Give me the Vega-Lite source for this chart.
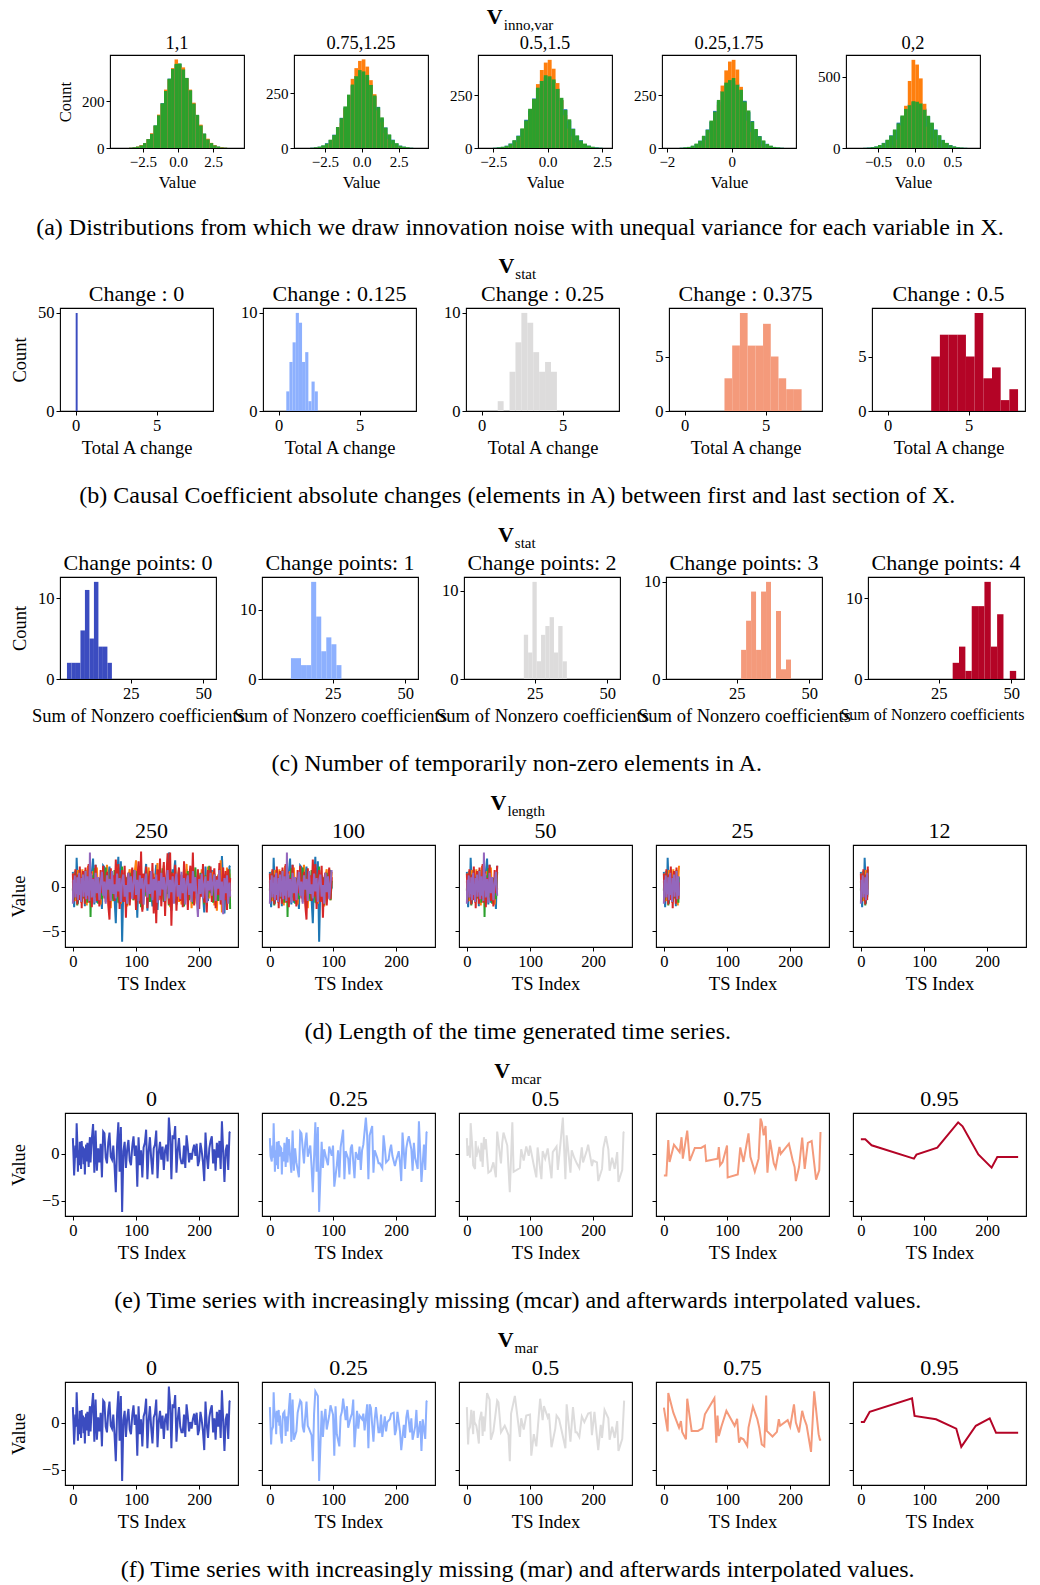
{
"$schema":"https://vega.github.io/schema/vega-lite/v6.json",
"background":"white",
"padding":{"left":8,"top":5,"right":0,"bottom":0},
"spacing":14,
"resolve":{"scale":{"color":"independent"}},
"config":{
 "font":"Liberation Serif",
 "view":{"stroke":"#000","strokeWidth":1.1},
 "axis":{"domain":false,"grid":false,"tickColor":"#000","tickSize":4,"tickWidth":1,"labelColor":"#000","labelFontSize":16.5,"labelPadding":2,"labelFlush":false,"labelOverlap":false,"titleColor":"#000","titleFontSize":18.5,"titleFontWeight":"normal","titlePadding":5},
 "axisY":{"titlePadding":8},
 "title":{"fontSize":22,"fontWeight":"normal","color":"#000","offset":2},
 "line":{"strokeWidth":2}
},
"datasets":{
"ha":[
{"p":1,"x0":-3.5,"x1":-3.25,"b":1,"o":1,"g":1},{"p":1,"x0":-3.25,"x1":-3,"b":3,"o":2,"g":3},{"p":1,"x0":-3,"x1":-2.75,"b":5,"o":6,"g":6},{"p":1,"x0":-2.75,"x1":-2.5,"b":11,"o":12,"g":11},{"p":1,"x0":-2.5,"x1":-2.25,"b":21,"o":20,"g":21},{"p":1,"x0":-2.25,"x1":-2,"b":38,"o":37,"g":38},{"p":1,"x0":-2,"x1":-1.75,"b":61,"o":63,"g":60},{"p":1,"x0":-1.75,"x1":-1.5,"b":96,"o":94,"g":97},{"p":1,"x0":-1.5,"x1":-1.25,"b":139,"o":143,"g":140},{"p":1,"x0":-1.25,"x1":-1,"b":192,"o":188,"g":191},{"p":1,"x0":-1,"x1":-0.75,"b":246,"o":250,"g":244},{"p":1,"x0":-0.75,"x1":-0.5,"b":297,"o":292,"g":296},{"p":1,"x0":-0.5,"x1":-0.25,"b":336,"o":342,"g":338},{"p":1,"x0":-0.25,"x1":0,"b":356,"o":379,"g":360},{"p":1,"x0":0,"x1":0.25,"b":360,"o":352,"g":362},{"p":1,"x0":0.25,"x1":0.5,"b":338,"o":345,"g":336},{"p":1,"x0":0.5,"x1":0.75,"b":299,"o":296,"g":300},{"p":1,"x0":0.75,"x1":1,"b":246,"o":250,"g":247},{"p":1,"x0":1,"x1":1.25,"b":191,"o":194,"g":190},{"p":1,"x0":1.25,"x1":1.5,"b":141,"o":138,"g":142},{"p":1,"x0":1.5,"x1":1.75,"b":97,"o":100,"g":96},{"p":1,"x0":1.75,"x1":2,"b":61,"o":60,"g":62},{"p":1,"x0":2,"x1":2.25,"b":38,"o":40,"g":37},{"p":1,"x0":2.25,"x1":2.5,"b":21,"o":22,"g":21},{"p":1,"x0":2.5,"x1":2.75,"b":11,"o":12,"g":11},{"p":1,"x0":2.75,"x1":3,"b":6,"o":5,"g":6},{"p":1,"x0":3,"x1":3.25,"b":3,"o":3,"g":2},{"p":1,"x0":3.25,"x1":3.5,"b":1,"o":1,"g":1},
{"p":2,"x0":-3.5,"x1":-3.25,"b":1,"o":0,"g":1},{"p":2,"x0":-3.25,"x1":-3,"b":3,"o":1,"g":3},{"p":2,"x0":-3,"x1":-2.75,"b":6,"o":2,"g":6},{"p":2,"x0":-2.75,"x1":-2.5,"b":11,"o":4,"g":12},{"p":2,"x0":-2.5,"x1":-2.25,"b":22,"o":10,"g":20},{"p":2,"x0":-2.25,"x1":-2,"b":36,"o":21,"g":38},{"p":2,"x0":-2,"x1":-1.75,"b":61,"o":39,"g":59},{"p":2,"x0":-1.75,"x1":-1.5,"b":92,"o":71,"g":96},{"p":2,"x0":-1.5,"x1":-1.25,"b":138,"o":114,"g":136},{"p":2,"x0":-1.25,"x1":-1,"b":184,"o":178,"g":190},{"p":2,"x0":-1,"x1":-0.75,"b":240,"o":240,"g":244},{"p":2,"x0":-0.75,"x1":-0.5,"b":285,"o":316,"g":290},{"p":2,"x0":-0.5,"x1":-0.25,"b":329,"o":365,"g":328},{"p":2,"x0":-0.25,"x1":0,"b":345,"o":398,"g":356},{"p":2,"x0":0,"x1":0.25,"b":349,"o":405,"g":350},{"p":2,"x0":0.25,"x1":0.5,"b":323,"o":372,"g":334},{"p":2,"x0":0.5,"x1":0.75,"b":290,"o":310,"g":288},{"p":2,"x0":0.75,"x1":1,"b":236,"o":246,"g":240},{"p":2,"x0":1,"x1":1.25,"b":188,"o":172,"g":186},{"p":2,"x0":1.25,"x1":1.5,"b":135,"o":118,"g":140},{"p":2,"x0":1.5,"x1":1.75,"b":94,"o":68,"g":93},{"p":2,"x0":1.75,"x1":2,"b":60,"o":41,"g":62},{"p":2,"x0":2,"x1":2.25,"b":38,"o":19,"g":36},{"p":2,"x0":2.25,"x1":2.5,"b":20,"o":10,"g":22},{"p":2,"x0":2.5,"x1":2.75,"b":11,"o":4,"g":10},{"p":2,"x0":2.75,"x1":3,"b":6,"o":2,"g":6},{"p":2,"x0":3,"x1":3.25,"b":3,"o":1,"g":3},{"p":2,"x0":3.25,"x1":3.5,"b":1,"o":0,"g":1},
{"p":3,"x0":-2.52,"x1":-2.34,"b":1,"o":0,"g":1},{"p":3,"x0":-2.34,"x1":-2.16,"b":3,"o":0,"g":3},{"p":3,"x0":-2.16,"x1":-1.98,"b":5,"o":1,"g":6},{"p":3,"x0":-1.98,"x1":-1.8,"b":11,"o":2,"g":10},{"p":3,"x0":-1.8,"x1":-1.62,"b":21,"o":5,"g":20},{"p":3,"x0":-1.62,"x1":-1.44,"b":35,"o":12,"g":37},{"p":3,"x0":-1.44,"x1":-1.26,"b":59,"o":28,"g":57},{"p":3,"x0":-1.26,"x1":-1.08,"b":90,"o":52,"g":93},{"p":3,"x0":-1.08,"x1":-0.9,"b":134,"o":96,"g":130},{"p":3,"x0":-0.9,"x1":-0.72,"b":178,"o":150,"g":186},{"p":3,"x0":-0.72,"x1":-0.54,"b":235,"o":230,"g":232},{"p":3,"x0":-0.54,"x1":-0.36,"b":278,"o":303,"g":286},{"p":3,"x0":-0.36,"x1":-0.18,"b":320,"o":370,"g":318},{"p":3,"x0":-0.18,"x1":0,"b":335,"o":405,"g":345},{"p":3,"x0":0,"x1":0.18,"b":338,"o":418,"g":340},{"p":3,"x0":0.18,"x1":0.36,"b":314,"o":376,"g":325},{"p":3,"x0":0.36,"x1":0.54,"b":282,"o":308,"g":280},{"p":3,"x0":0.54,"x1":0.72,"b":228,"o":226,"g":238},{"p":3,"x0":0.72,"x1":0.9,"b":184,"o":156,"g":180},{"p":3,"x0":0.9,"x1":1.08,"b":130,"o":92,"g":136},{"p":3,"x0":1.08,"x1":1.26,"b":92,"o":54,"g":90},{"p":3,"x0":1.26,"x1":1.44,"b":57,"o":26,"g":60},{"p":3,"x0":1.44,"x1":1.62,"b":37,"o":12,"g":35},{"p":3,"x0":1.62,"x1":1.8,"b":19,"o":5,"g":21},{"p":3,"x0":1.8,"x1":1.98,"b":11,"o":2,"g":11},{"p":3,"x0":1.98,"x1":2.16,"b":5,"o":1,"g":6},{"p":3,"x0":2.16,"x1":2.34,"b":3,"o":0,"g":2},{"p":3,"x0":2.34,"x1":2.52,"b":1,"o":0,"g":1},
{"p":4,"x0":-1.61,"x1":-1.495,"b":1,"o":0,"g":1},{"p":4,"x0":-1.495,"x1":-1.38,"b":2,"o":0,"g":3},{"p":4,"x0":-1.38,"x1":-1.265,"b":5,"o":0,"g":5},{"p":4,"x0":-1.265,"x1":-1.15,"b":10,"o":1,"g":11},{"p":4,"x0":-1.15,"x1":-1.035,"b":19,"o":2,"g":21},{"p":4,"x0":-1.035,"x1":-0.92,"b":35,"o":7,"g":34},{"p":4,"x0":-0.92,"x1":-0.805,"b":55,"o":17,"g":58},{"p":4,"x0":-0.805,"x1":-0.69,"b":88,"o":38,"g":86},{"p":4,"x0":-0.69,"x1":-0.575,"b":124,"o":73,"g":130},{"p":4,"x0":-0.575,"x1":-0.46,"b":176,"o":134,"g":172},{"p":4,"x0":-0.46,"x1":-0.345,"b":220,"o":205,"g":228},{"p":4,"x0":-0.345,"x1":-0.23,"b":270,"o":296,"g":268},{"p":4,"x0":-0.23,"x1":-0.115,"b":300,"o":368,"g":310},{"p":4,"x0":-0.115,"x1":0,"b":325,"o":410,"g":322},{"p":4,"x0":0,"x1":0.115,"b":318,"o":418,"g":332},{"p":4,"x0":0.115,"x1":0.23,"b":305,"o":372,"g":300},{"p":4,"x0":0.23,"x1":0.345,"b":265,"o":290,"g":276},{"p":4,"x0":0.345,"x1":0.46,"b":224,"o":212,"g":220},{"p":4,"x0":0.46,"x1":0.575,"b":170,"o":130,"g":178},{"p":4,"x0":0.575,"x1":0.69,"b":128,"o":76,"g":125},{"p":4,"x0":0.69,"x1":0.805,"b":86,"o":37,"g":90},{"p":4,"x0":0.805,"x1":0.92,"b":57,"o":18,"g":55},{"p":4,"x0":0.92,"x1":1.035,"b":33,"o":7,"g":36},{"p":4,"x0":1.035,"x1":1.15,"b":20,"o":2,"g":19},{"p":4,"x0":1.15,"x1":1.265,"b":10,"o":1,"g":11},{"p":4,"x0":1.265,"x1":1.38,"b":5,"o":0,"g":5},{"p":4,"x0":1.38,"x1":1.495,"b":2,"o":0,"g":3},{"p":4,"x0":1.495,"x1":1.61,"b":1,"o":0,"g":1},
{"p":5,"x0":-0.7,"x1":-0.65,"b":1,"o":0,"g":1},{"p":5,"x0":-0.65,"x1":-0.6,"b":3,"o":0,"g":2},{"p":5,"x0":-0.6,"x1":-0.55,"b":5,"o":0,"g":6},{"p":5,"x0":-0.55,"x1":-0.5,"b":11,"o":0,"g":10},{"p":5,"x0":-0.5,"x1":-0.45,"b":19,"o":0,"g":21},{"p":5,"x0":-0.45,"x1":-0.4,"b":36,"o":0,"g":34},{"p":5,"x0":-0.4,"x1":-0.35,"b":55,"o":1,"g":58},{"p":5,"x0":-0.35,"x1":-0.3,"b":89,"o":5,"g":86},{"p":5,"x0":-0.3,"x1":-0.25,"b":125,"o":21,"g":130},{"p":5,"x0":-0.25,"x1":-0.2,"b":178,"o":60,"g":172},{"p":5,"x0":-0.2,"x1":-0.15,"b":220,"o":158,"g":228},{"p":5,"x0":-0.15,"x1":-0.1,"b":268,"o":296,"g":274},{"p":5,"x0":-0.1,"x1":-0.05,"b":305,"o":470,"g":300},{"p":5,"x0":-0.05,"x1":0,"b":322,"o":618,"g":328},{"p":5,"x0":0,"x1":0.05,"b":330,"o":585,"g":324},{"p":5,"x0":0.05,"x1":0.1,"b":302,"o":488,"g":312},{"p":5,"x0":0.1,"x1":0.15,"b":276,"o":310,"g":268},{"p":5,"x0":0.15,"x1":0.2,"b":222,"o":150,"g":226},{"p":5,"x0":0.2,"x1":0.25,"b":174,"o":66,"g":178},{"p":5,"x0":0.25,"x1":0.3,"b":130,"o":19,"g":126},{"p":5,"x0":0.3,"x1":0.35,"b":86,"o":5,"g":90},{"p":5,"x0":0.35,"x1":0.4,"b":57,"o":1,"g":55},{"p":5,"x0":0.4,"x1":0.45,"b":34,"o":0,"g":36},{"p":5,"x0":0.45,"x1":0.5,"b":21,"o":0,"g":19},{"p":5,"x0":0.5,"x1":0.55,"b":10,"o":0,"g":11},{"p":5,"x0":0.55,"x1":0.6,"b":5,"o":0,"g":5},{"p":5,"x0":0.6,"x1":0.65,"b":2,"o":0,"g":3},{"p":5,"x0":0.65,"x1":0.7,"b":1,"o":0,"g":1}
],
"hb":[
{"p":1,"x0":0,"x1":0.12,"n":50},
{"p":2,"x0":0.47,"x1":0.665,"n":2},{"p":2,"x0":0.665,"x1":0.86,"n":5},{"p":2,"x0":0.86,"x1":1.055,"n":7},{"p":2,"x0":1.055,"x1":1.25,"n":10},{"p":2,"x0":1.25,"x1":1.445,"n":9},{"p":2,"x0":1.445,"x1":1.64,"n":5},{"p":2,"x0":1.64,"x1":1.835,"n":6},{"p":2,"x0":1.835,"x1":2.03,"n":1},{"p":2,"x0":2.03,"x1":2.225,"n":3},{"p":2,"x0":2.225,"x1":2.42,"n":2},
{"p":3,"x0":0.99,"x1":1.356,"n":1},{"p":3,"x0":1.356,"x1":1.722,"n":0},{"p":3,"x0":1.722,"x1":2.088,"n":4},{"p":3,"x0":2.088,"x1":2.454,"n":7},{"p":3,"x0":2.454,"x1":2.82,"n":10},{"p":3,"x0":2.82,"x1":3.186,"n":9},{"p":3,"x0":3.186,"x1":3.552,"n":6},{"p":3,"x0":3.552,"x1":3.918,"n":4},{"p":3,"x0":3.918,"x1":4.284,"n":5},{"p":3,"x0":4.284,"x1":4.65,"n":4},
{"p":4,"x0":2.46,"x1":2.937,"n":3},{"p":4,"x0":2.937,"x1":3.414,"n":6},{"p":4,"x0":3.414,"x1":3.891,"n":9},{"p":4,"x0":3.891,"x1":4.368,"n":6},{"p":4,"x0":4.368,"x1":4.845,"n":6},{"p":4,"x0":4.845,"x1":5.322,"n":8},{"p":4,"x0":5.322,"x1":5.799,"n":5},{"p":4,"x0":5.799,"x1":6.276,"n":3},{"p":4,"x0":6.276,"x1":6.753,"n":2},{"p":4,"x0":6.753,"x1":7.23,"n":2},
{"p":5,"x0":2.69,"x1":3.227,"n":5},{"p":5,"x0":3.227,"x1":3.764,"n":7},{"p":5,"x0":3.764,"x1":4.301,"n":7},{"p":5,"x0":4.301,"x1":4.838,"n":7},{"p":5,"x0":4.838,"x1":5.375,"n":5},{"p":5,"x0":5.375,"x1":5.912,"n":9},{"p":5,"x0":5.912,"x1":6.449,"n":3},{"p":5,"x0":6.449,"x1":6.986,"n":4},{"p":5,"x0":6.986,"x1":7.523,"n":1},{"p":5,"x0":7.523,"x1":8.06,"n":2}
],
"hc":[
{"p":1,"x0":3,"x1":4.55,"n":2},{"p":1,"x0":4.55,"x1":6.1,"n":2},{"p":1,"x0":6.1,"x1":7.65,"n":2},{"p":1,"x0":7.65,"x1":9.2,"n":6},{"p":1,"x0":9.2,"x1":10.75,"n":11},{"p":1,"x0":10.75,"x1":12.3,"n":5},{"p":1,"x0":12.3,"x1":13.85,"n":12},{"p":1,"x0":13.85,"x1":15.4,"n":4},{"p":1,"x0":15.4,"x1":16.95,"n":4},{"p":1,"x0":16.95,"x1":18.5,"n":2},
{"p":2,"x0":10.58,"x1":12.32,"n":3},{"p":2,"x0":12.32,"x1":14.06,"n":3},{"p":2,"x0":14.06,"x1":15.81,"n":2},{"p":2,"x0":15.81,"x1":17.55,"n":2},{"p":2,"x0":17.55,"x1":19.29,"n":14},{"p":2,"x0":19.29,"x1":21.03,"n":9},{"p":2,"x0":21.03,"x1":22.77,"n":4},{"p":2,"x0":22.77,"x1":24.52,"n":6},{"p":2,"x0":24.52,"x1":26.26,"n":5},{"p":2,"x0":26.26,"x1":28.0,"n":2},
{"p":3,"x0":21.23,"x1":22.71,"n":5},{"p":3,"x0":22.71,"x1":24.2,"n":3},{"p":3,"x0":24.2,"x1":25.68,"n":11},{"p":3,"x0":25.68,"x1":27.17,"n":2},{"p":3,"x0":27.17,"x1":28.65,"n":5},{"p":3,"x0":28.65,"x1":30.13,"n":6},{"p":3,"x0":30.13,"x1":31.62,"n":7},{"p":3,"x0":31.62,"x1":33.1,"n":3},{"p":3,"x0":33.1,"x1":34.59,"n":6},{"p":3,"x0":34.59,"x1":36.07,"n":2},
{"p":4,"x0":26.5,"x1":28.22,"n":3},{"p":4,"x0":28.22,"x1":29.94,"n":6},{"p":4,"x0":29.94,"x1":31.66,"n":9},{"p":4,"x0":31.66,"x1":33.38,"n":3},{"p":4,"x0":33.38,"x1":35.1,"n":9},{"p":4,"x0":35.1,"x1":36.82,"n":10},{"p":4,"x0":36.82,"x1":38.54,"n":0},{"p":4,"x0":38.54,"x1":40.26,"n":7},{"p":4,"x0":40.26,"x1":41.98,"n":1},{"p":4,"x0":41.98,"x1":43.7,"n":2},
{"p":5,"x0":29.8,"x1":31.99,"n":2},{"p":5,"x0":31.99,"x1":34.18,"n":4},{"p":5,"x0":34.18,"x1":36.37,"n":1},{"p":5,"x0":36.37,"x1":38.56,"n":9},{"p":5,"x0":38.56,"x1":40.75,"n":9},{"p":5,"x0":40.75,"x1":42.94,"n":12},{"p":5,"x0":42.94,"x1":45.13,"n":4},{"p":5,"x0":45.13,"x1":47.32,"n":8},{"p":5,"x0":47.32,"x1":49.51,"n":0},{"p":5,"x0":49.51,"x1":51.7,"n":1}
],
"ts":[
{"i":0,"a":1.7,"b":0.5,"c":-0.4,"d":1.5,"e":-1.9,"k":3,"q":3},
{"i":1,"a":-0.2,"b":1.5,"c":1.2,"d":-1.7,"e":0.8,"k":2,"q":1},
{"i":2,"a":-2.3,"b":-1.0,"c":-1.5,"d":0.6,"e":-0.5,"k":0,"q":2},
{"i":3,"a":-0.8,"b":0.3,"c":0.6,"d":-0.4,"e":1.3,"k":1,"q":3},
{"i":4,"a":0.9,"b":-1.6,"c":1.8,"d":2.0,"e":-1.2,"k":3,"q":0},
{"i":5,"a":-0.4,"b":1.1,"c":-0.9,"d":-1.2,"e":0.4,"k":2,"q":2},
{"i":6,"a":3.3,"b":0.2,"c":0.3,"d":0.9,"e":-0.8,"k":3,"q":1},
{"i":7,"a":1.4,"b":-0.7,"c":-2.1,"d":-2.0,"e":1.1,"k":0,"q":3},
{"i":8,"a":-1.9,"b":1.9,"c":1.0,"d":1.4,"e":-1.5,"k":1,"q":0},
{"i":9,"a":0.4,"b":-1.2,"c":0.2,"d":0.1,"e":0.7,"k":2,"q":1},
{"i":10,"a":-1.2,"b":0.6,"c":-1.1,"d":-1.5,"e":1.6,"k":3,"q":2},
{"i":11,"a":1.3,"b":-0.3,"c":2.0,"d":2.3,"e":-0.9,"k":1,"q":3},
{"i":12,"a":0.1,"b":1.4,"c":-0.6,"d":-0.8,"e":0.2,"k":0,"q":2},
{"i":13,"a":-1.6,"b":-1.8,"c":0.9,"d":1.1,"e":-1.7,"k":2,"q":0},
{"i":14,"a":1.4,"b":0.9,"c":-1.7,"d":-2.4,"e":1.0,"k":3,"q":1},
{"i":15,"a":-0.3,"b":2.0,"c":0.4,"d":0.7,"e":-0.3,"k":3,"q":3},
{"i":16,"a":0.8,"b":-0.5,"c":1.5,"d":1.8,"e":1.4,"k":1,"q":1},
{"i":17,"a":-1.1,"b":0.4,"c":-0.2,"d":-1.0,"e":-1.1,"k":0,"q":2},
{"i":18,"a":0.6,"b":-1.3,"c":-1.3,"d":0.3,"e":0.6,"k":2,"q":0},
{"i":19,"a":-2.2,"b":1.7,"c":0.8,"d":-1.9,"e":-0.6,"k":1,"q":3},
{"i":20,"a":0.2,"b":-0.2,"c":1.9,"d":2.2,"e":1.8,"k":3,"q":2},
{"i":21,"a":1.0,"b":0.8,"c":-0.7,"d":-0.5,"e":-1.4,"k":0,"q":1},
{"i":22,"a":-0.8,"b":-2.1,"c":0.1,"d":1.2,"e":0.3,"k":2,"q":0},
{"i":23,"a":1.2,"b":1.0,"c":-1.8,"d":-1.4,"e":1.2,"k":3,"q":3},
{"i":24,"a":0.3,"b":2.4,"c":1.1,"d":0.5,"e":-1.0,"k":1,"q":1},
{"i":25,"a":-1.4,"b":-0.6,"c":0.5,"d":2.6,"e":0.5,"k":2,"q":2},
{"i":26,"a":0.7,"b":0.1,"c":-0.9,"d":-1.8,"e":-1.6,"k":0,"q":3},
{"i":27,"a":1.8,"b":-1.5,"c":1.6,"d":0.8,"e":3.9,"k":3,"q":0},
{"i":28,"a":-0.9,"b":1.2,"c":-3.4,"d":-0.9,"e":-0.4,"k":1,"q":2},
{"i":29,"a":0.5,"b":0.3,"c":0.7,"d":1.7,"e":1.5,"k":2,"q":1},
{"i":30,"a":1.6,"b":-0.9,"c":1.3,"d":-2.3,"e":-1.2,"k":3,"q":0},
{"i":32,"a":3.2,"b":1.8,"c":-0.8,"d":1.0,"e":0.9,"k":0,"q":3},
{"i":34,"a":-2.0,"b":-1.4,"c":2.1,"d":-0.6,"e":-1.8,"k":2,"q":1},
{"i":36,"a":2.5,"b":0.6,"c":-1.2,"d":2.5,"e":1.6,"k":1,"q":2},
{"i":38,"a":-1.8,"b":2.2,"c":0.4,"d":-1.6,"e":-0.7,"k":3,"q":2},
{"i":40,"a":0.6,"b":-1.1,"c":-1.9,"d":0.4,"e":1.1,"k":1,"q":0},
{"i":42,"a":-0.9,"b":0.4,"c":1.0,"d":-2.2,"e":-1.5,"k":2,"q":3},
{"i":44,"a":1.1,"b":-2.0,"c":0.2,"d":1.9,"e":0.4,"k":0,"q":1},
{"i":46,"a":-2.5,"b":1.3,"c":-1.4,"d":-0.7,"e":1.7,"k":3,"q":0},
{"i":48,"a":2.4,"b":-0.3,"c":1.7,"d":2.4,"e":-1.0,"k":2,"q":2},
{"i":50,"a":2.2,"b":0.9,"c":-0.5,"d":-1.3,"e":0.6,"k":1,"q":3},
{"i":52,"a":-0.4,"b":-1.7,"c":2.2,"d":0.6,"e":-1.9,"k":0,"q":1},
{"i":54,"a":-1.0,"b":2.5,"c":-1.0,"d":1.7,"e":1.3,"k":3,"q":2},
{"i":56,"a":1.2,"b":-0.8,"c":0.6,"d":-2.0,"e":-0.3,"k":2,"q":0},
{"i":58,"a":2.3,"b":0.2,"c":-2.2,"d":-3.7,"e":0.9,"k":2,"q":1},
{"i":60,"a":-0.3,"b":-2.4,"c":1.2,"d":2.1,"e":-1.6,"k":1,"q":3},
{"i":62,"a":-0.6,"b":1.6,"c":0.0,"d":-0.4,"e":1.8,"k":0,"q":2},
{"i":64,"a":0.9,"b":-0.1,"c":-1.6,"d":1.3,"e":-0.8,"k":3,"q":0},
{"i":66,"a":-1.3,"b":0.7,"c":1.9,"d":-1.6,"e":0.3,"k":1,"q":3},
{"i":68,"a":-4.1,"b":-1.2,"c":-0.3,"d":3.1,"e":-1.3,"k":2,"q":2},
{"i":70,"a":1.0,"b":2.3,"c":0.8,"d":-1.1,"e":1.5,"k":0,"q":2},
{"i":72,"a":3.4,"b":-0.5,"c":-1.8,"d":2.6,"e":-0.5,"k":3,"q":1},
{"i":74,"a":-1.9,"b":1.0,"c":1.4,"d":-2.5,"e":1.0,"k":2,"q":0},
{"i":76,"a":2.9,"b":-1.9,"c":-0.6,"d":0.8,"e":-1.7,"k":1,"q":3},
{"i":78,"a":-6.2,"b":0.6,"c":2.3,"d":1.9,"e":0.7,"k":1,"q":1},
{"i":80,"a":0.3,"b":1.4,"c":-1.2,"d":-1.7,"e":1.4,"k":0,"q":0},
{"i":82,"a":1.3,"b":-1.0,"c":0.5,"d":2.4,"e":-1.1,"k":1,"q":1},
{"i":84,"a":-1.5,"b":0.3,"c":1.1,"d":-3.5,"e":0.2,"k":2,"q":3},
{"i":86,"a":0.5,"b":-2.2,"c":-2.0,"d":0.9,"e":-1.9,"k":3,"q":2},
{"i":88,"a":1.5,"b":1.1,"c":0.3,"d":1.6,"e":1.6,"k":0,"q":1},
{"i":90,"a":-0.7,"b":2.0,"c":1.6,"d":-2.1,"e":-0.6,"k":2,"q":3},
{"i":92,"a":-1.2,"b":-0.7,"c":-0.9,"d":0.3,"e":1.2,"k":1,"q":0},
{"i":94,"a":0.8,"b":0.5,"c":2.0,"d":2.2,"e":-1.4,"k":3,"q":2},
{"i":96,"a":1.9,"b":-1.5,"c":-1.5,"d":-1.4,"e":0.5,"k":0,"q":1},
{"i":98,"a":-0.2,"b":1.7,"c":0.7,"d":1.1,"e":1.9,"k":2,"q":0},
{"i":100,"a":0.9,"b":3.0,"c":-0.2,"d":-2.6,"e":-0.9,"k":3,"q":3},
{"i":102,"a":-3.5,"b":-1.3,"c":1.8,"d":0.7,"e":0.8,"k":1,"q":2},
{"i":104,"a":1.8,"b":0.8,"c":-1.3,"d":2.9,"e":-1.6,"k":0,"q":1},
{"i":106,"a":-1.2,"b":-0.4,"c":0.9,"d":-1.9,"e":1.3,"k":2,"q":3},
{"i":108,"a":0.4,"b":1.9,"c":-2.3,"d":4.0,"e":-0.2,"k":1,"q":0},
{"i":110,"a":-2.5,"b":-2.6,"c":1.2,"d":-2.8,"e":1.0,"k":3,"q":2},
{"i":112,"a":0.7,"b":0.2,"c":0.1,"d":1.5,"e":-2.0,"k":2,"q":1},
{"i":114,"a":1.2,"b":1.2,"c":-1.0,"d":-0.6,"e":0.6,"k":0,"q":1},
{"i":116,"a":2.6,"b":-1.1,"c":2.2,"d":2.3,"e":1.5,"k":1,"q":3},
{"i":118,"a":-2.7,"b":0.6,"c":-0.5,"d":-2.4,"e":-1.2,"k":3,"q":0},
{"i":120,"a":0.3,"b":2.2,"c":0.6,"d":0.9,"e":0.3,"k":2,"q":2},
{"i":122,"a":1.8,"b":-1.6,"c":-1.7,"d":1.8,"e":-0.8,"k":0,"q":3},
{"i":124,"a":-0.5,"b":0.9,"c":1.5,"d":-1.2,"e":1.8,"k":3,"q":1},
{"i":126,"a":-2.2,"b":-0.2,"c":-0.2,"d":2.7,"e":-1.5,"k":1,"q":0},
{"i":128,"a":0.6,"b":1.5,"c":-2.0,"d":-3.0,"e":0.9,"k":2,"q":2},
{"i":130,"a":1.0,"b":-2.1,"c":1.0,"d":1.1,"e":-0.4,"k":1,"q":2},
{"i":132,"a":2.5,"b":0.4,"c":0.3,"d":-4.1,"e":1.4,"k":0,"q":1},
{"i":134,"a":-2.6,"b":2.7,"c":-1.4,"d":2.0,"e":-1.8,"k":3,"q":3},
{"i":136,"a":0.2,"b":-0.9,"c":1.9,"d":-1.5,"e":0.7,"k":2,"q":0},
{"i":138,"a":1.3,"b":1.1,"c":-0.8,"d":3.2,"e":-1.0,"k":0,"q":1},
{"i":140,"a":-0.6,"b":-1.4,"c":0.4,"d":-2.2,"e":1.6,"k":1,"q":2},
{"i":142,"a":0.8,"b":0.3,"c":2.1,"d":0.5,"e":-0.3,"k":3,"q":3},
{"i":144,"a":-1.7,"b":2.4,"c":-1.6,"d":2.8,"e":1.1,"k":2,"q":0},
{"i":146,"a":0.4,"b":-1.8,"c":0.7,"d":-3.3,"e":-1.6,"k":1,"q":3},
{"i":148,"a":1.0,"b":0.7,"c":-0.3,"d":1.2,"e":0.4,"k":3,"q":1},
{"i":150,"a":-0.8,"b":-0.6,"c":1.3,"d":3.8,"e":1.9,"k":0,"q":2},
{"i":152,"a":3.9,"b":1.8,"c":-2.1,"d":-2.0,"e":-1.3,"k":2,"q":0},
{"i":154,"a":2.0,"b":-2.3,"c":0.8,"d":3.9,"e":0.8,"k":1,"q":1},
{"i":156,"a":-2.7,"b":0.5,"c":1.7,"d":-4.4,"e":-0.6,"k":3,"q":3},
{"i":158,"a":2.0,"b":1.3,"c":-1.1,"d":1.6,"e":1.2,"k":2,"q":2},
{"i":160,"a":1.6,"b":-1.0,"c":0.2,"d":-1.4,"e":-1.9,"k":0,"q":1},
{"i":162,"a":3.0,"b":2.1,"c":-1.8,"d":2.5,"e":0.5,"k":1,"q":0},
{"i":164,"a":-2.0,"b":-0.3,"c":1.4,"d":-2.7,"e":1.5,"k":3,"q":3},
{"i":166,"a":0.4,"b":0.8,"c":-0.4,"d":0.8,"e":-1.1,"k":2,"q":1},
{"i":168,"a":1.7,"b":-1.7,"c":2.0,"d":2.2,"e":0.2,"k":0,"q":2},
{"i":170,"a":-0.4,"b":1.4,"c":-1.3,"d":-1.6,"e":-1.4,"k":3,"q":0},
{"i":172,"a":-1.0,"b":-2.0,"c":0.5,"d":1.3,"e":1.7,"k":1,"q":3},
{"i":174,"a":-1.0,"b":0.6,"c":1.1,"d":-2.3,"e":-0.7,"k":2,"q":2},
{"i":176,"a":0.9,"b":1.9,"c":-2.2,"d":2.9,"e":1.0,"k":0,"q":1},
{"i":178,"a":-1.5,"b":-0.8,"c":0.9,"d":-0.7,"e":-2.0,"k":3,"q":3},
{"i":180,"a":2.0,"b":2.6,"c":-0.6,"d":1.5,"e":0.6,"k":1,"q":0},
{"i":182,"a":0.7,"b":-1.2,"c":1.8,"d":-2.6,"e":1.3,"k":2,"q":2},
{"i":184,"a":-0.9,"b":0.1,"c":-1.5,"d":0.6,"e":-0.9,"k":3,"q":1},
{"i":186,"a":0.1,"b":1.0,"c":0.3,"d":2.4,"e":0.4,"k":0,"q":3},
{"i":188,"a":-0.6,"b":-2.4,"c":1.2,"d":-1.3,"e":-1.7,"k":1,"q":0},
{"i":190,"a":0.4,"b":0.7,"c":-1.9,"d":3.9,"e":1.8,"k":2,"q":1},
{"i":192,"a":1.0,"b":1.6,"c":0.6,"d":-2.1,"e":-0.5,"k":3,"q":2},
{"i":194,"a":-0.2,"b":-0.5,"c":2.2,"d":1.0,"e":1.1,"k":1,"q":0},
{"i":196,"a":1.1,"b":-1.9,"c":-0.8,"d":-0.8,"e":-1.2,"k":0,"q":3},
{"i":198,"a":-1.3,"b":1.2,"c":0.1,"d":2.0,"e":-3.4,"k":2,"q":2},
{"i":200,"a":-0.7,"b":0.4,"c":-1.4,"d":-2.5,"e":0.9,"k":3,"q":1},
{"i":202,"a":1.2,"b":-1.1,"c":1.6,"d":1.4,"e":-0.8,"k":0,"q":3},
{"i":204,"a":0.3,"b":2.0,"c":-0.3,"d":-1.1,"e":1.5,"k":1,"q":0},
{"i":206,"a":-0.9,"b":-0.7,"c":0.9,"d":2.6,"e":-1.3,"k":2,"q":1},
{"i":208,"a":-2.9,"b":1.3,"c":-2.0,"d":-1.8,"e":0.3,"k":3,"q":2},
{"i":210,"a":2.3,"b":-1.6,"c":1.3,"d":0.7,"e":1.2,"k":1,"q":0},
{"i":212,"a":-0.2,"b":0.2,"c":0.4,"d":-2.9,"e":-1.8,"k":0,"q":3},
{"i":214,"a":-1.6,"b":2.3,"c":-1.2,"d":1.9,"e":0.7,"k":2,"q":2},
{"i":216,"a":0.6,"b":-1.3,"c":2.4,"d":-0.5,"e":-0.4,"k":3,"q":1},
{"i":218,"a":1.4,"b":0.9,"c":-0.7,"d":2.3,"e":1.6,"k":1,"q":3},
{"i":220,"a":1.9,"b":-0.4,"c":0.8,"d":-1.7,"e":-1.0,"k":2,"q":0},
{"i":222,"a":-1.0,"b":1.7,"c":-1.8,"d":0.9,"e":0.5,"k":0,"q":1},
{"i":224,"a":0.5,"b":-2.1,"c":1.5,"d":2.1,"e":1.4,"k":3,"q":2},
{"i":226,"a":-1.8,"b":0.5,"c":-0.1,"d":-2.4,"e":-1.6,"k":2,"q":2},
{"i":228,"a":1.2,"b":-2.7,"c":0.7,"d":1.2,"e":0.8,"k":1,"q":0},
{"i":230,"a":-0.4,"b":1.4,"c":-1.6,"d":-0.9,"e":-0.2,"k":3,"q":3},
{"i":232,"a":1.4,"b":-0.6,"c":2.0,"d":2.7,"e":1.9,"k":0,"q":1},
{"i":234,"a":-1.6,"b":3.0,"c":-0.9,"d":-2.0,"e":-1.5,"k":2,"q":2},
{"i":236,"a":3.5,"b":-2.9,"c":0.5,"d":0.4,"e":0.6,"k":1,"q":0},
{"i":238,"a":0.2,"b":1.1,"c":-2.3,"d":2.2,"e":-3.1,"k":3,"q":3},
{"i":240,"a":-3.0,"b":0.3,"c":1.4,"d":-1.5,"e":1.0,"k":2,"q":2},
{"i":242,"a":0.4,"b":-1.4,"c":-0.4,"d":1.8,"e":-0.7,"k":0,"q":1},
{"i":244,"a":1.0,"b":2.2,"c":0.9,"d":-2.6,"e":1.3,"k":1,"q":0},
{"i":246,"a":-1.7,"b":-0.9,"c":-1.3,"d":2.0,"e":-1.9,"k":3,"q":3},
{"i":248,"a":2.3,"b":1.5,"c":2.0,"d":-1.2,"e":0.5,"k":2,"q":1},
{"i":249,"a":2.4,"b":-0.5,"c":-2.5,"d":1.0,"e":-1.1,"k":3,"q":3}
],
"e75":[{"i":0,"v":-2.3},{"i":4,"v":-2.3},{"i":7,"v":1.5},{"i":9,"v":-0.85},{"i":16,"v":1.0},{"i":25,"v":0.2},{"i":28,"v":1.8},{"i":30,"v":-0.5},{"i":37,"v":2.5},{"i":41,"v":-0.75},{"i":49,"v":0.65},{"i":59,"v":0.65},{"i":65,"v":0.9},{"i":67,"v":-0.75},{"i":85,"v":-0.5},{"i":87,"v":0.75},{"i":89,"v":-1.2},{"i":93,"v":-0.85},{"i":100,"v":0.9},{"i":101,"v":-2.5},{"i":117,"v":-2.2},{"i":121,"v":0.7},{"i":126,"v":-0.85},{"i":134,"v":2.2},{"i":137,"v":-0.3},{"i":144,"v":-1.9},{"i":150,"v":-0.5},{"i":153,"v":3.8},{"i":155,"v":3.4},{"i":158,"v":2.0},{"i":161,"v":3.0},{"i":164,"v":-2.0},{"i":168,"v":1.5},{"i":174,"v":-1.0},{"i":177,"v":-1.5},{"i":183,"v":0.75},{"i":185,"v":0},{"i":198,"v":1.1},{"i":204,"v":-0.7},{"i":207,"v":-1.4},{"i":209,"v":-2.9},{"i":214,"v":-1.4},{"i":219,"v":1.75},{"i":223,"v":-1.6},{"i":228,"v":1.2},{"i":234,"v":1.4},{"i":241,"v":-2.75},{"i":246,"v":-1.75},{"i":248,"v":2.35}],
"e95":[{"i":0,"v":1.57},{"i":7,"v":1.57},{"i":17,"v":0.93},{"i":84,"v":-0.5},{"i":88,"v":-0.07},{"i":121,"v":0.68},{"i":154,"v":3.39},{"i":161,"v":2.96},{"i":186,"v":-0.04},{"i":207,"v":-1.46},{"i":216,"v":-0.32},{"i":249,"v":-0.32}],
"f75":[{"i":0,"v":1.64},{"i":6,"v":-0.9},{"i":7,"v":3.2},{"i":15,"v":1.1},{"i":24,"v":-0.5},{"i":27,"v":0.2},{"i":29,"v":-0.95},{"i":35,"v":-1.75},{"i":37,"v":2.6},{"i":44,"v":-0.85},{"i":54,"v":-0.85},{"i":61,"v":-0.57},{"i":65,"v":0.93},{"i":80,"v":2.65},{"i":83,"v":-2.1},{"i":85,"v":0.8},{"i":87,"v":-1.4},{"i":91,"v":-0.4},{"i":99,"v":1.3},{"i":112,"v":-0.3},{"i":116,"v":0.45},{"i":119,"v":-2.1},{"i":122,"v":-1.6},{"i":126,"v":-1.75},{"i":132,"v":-2.45},{"i":134,"v":-0.5},{"i":141,"v":1.75},{"i":148,"v":0.4},{"i":151,"v":-0.5},{"i":155,"v":-2.3},{"i":159,"v":-2.5},{"i":162,"v":2.95},{"i":163,"v":-0.85},{"i":172,"v":-1.45},{"i":179,"v":-0.95},{"i":182,"v":0.4},{"i":184,"v":-0.3},{"i":196,"v":0.3},{"i":200,"v":-0.4},{"i":206,"v":2.0},{"i":209,"v":0.05},{"i":214,"v":-1.0},{"i":219,"v":1.3},{"i":222,"v":0.5},{"i":226,"v":-0.25},{"i":233,"v":-3.1},{"i":238,"v":3.4},{"i":245,"v":-1.2},{"i":247,"v":-1.8},{"i":249,"v":-1.8}],
"f95":[{"i":0,"v":0.1},{"i":5,"v":0.1},{"i":14,"v":1.2},{"i":81,"v":2.65},{"i":85,"v":0.75},{"i":119,"v":0.4},{"i":151,"v":-0.6},{"i":159,"v":-2.55},{"i":182,"v":-0.3},{"i":204,"v":0.5},{"i":214,"v":-1.05},{"i":249,"v":-1.05}]
},
"vconcat":[
{"title":{"text":"(a) Distributions from which we draw innovation noise with unequal variance for each variable in X.","orient":"bottom","anchor":"middle","frame":"bounds","fontSize":24,"offset":24.5},
 "vconcat":[{"title":{"text":"V","anchor":"middle","frame":"bounds","fontSize":22,"fontWeight":"bold","dx":-25.3,"offset":-10.5},
 "vconcat":[{"title":{"text":"inno,var","anchor":"middle","frame":"bounds","fontSize":15,"dx":8.5,"offset":0},
 "bounds":"flush","spacing":50,
 "hconcat":[
  {"width":51,"height":93,"data":{"values":[]},"mark":"point","encoding":{},"view":{"stroke":null,"fill":"transparent"}},
  {"width":134,"height":93,"title":{"text":"1,1","fontSize":18.4,"offset":3},"data":{"name":"ha"},"transform":[{"filter":"datum.p==1"},{"fold":["b","o","g"],"as":["s","n"]}],"mark":"rect",
   "encoding":{"x":{"field":"x0","type":"quantitative","scale":{"domain":[-4.85,4.7],"nice":false,"zero":false},"axis":{"values":[-2.5,0,2.5],"format":".1f","title":"Value","labelFontSize":15,"titleFontSize":16.5}},"x2":{"field":"x1"},
   "y":{"field":"n","type":"quantitative","scale":{"domain":[0,398],"nice":false},"axis":{"values":[0,200],"title":"Count","labelFontSize":15,"titleFontSize":16.5}},"y2":{"datum":0},
   "color":{"field":"s","type":"nominal","scale":{"domain":["b","o","g"],"range":["#1f77b4","#ff7f0e","#2ca02c"]},"legend":null}}},
  {"width":134,"height":93,"title":{"text":"0.75,1.25","fontSize":18.4,"offset":3},"data":{"name":"ha"},"transform":[{"filter":"datum.p==2"},{"fold":["b","o","g"],"as":["s","n"]}],"mark":"rect",
   "encoding":{"x":{"field":"x0","type":"quantitative","scale":{"domain":[-4.6,4.5],"nice":false,"zero":false},"axis":{"values":[-2.5,0,2.5],"format":".1f","title":"Value","labelFontSize":15,"titleFontSize":16.5}},"x2":{"field":"x1"},
   "y":{"field":"n","type":"quantitative","scale":{"domain":[0,425],"nice":false},"axis":{"values":[0,250],"title":null,"labelFontSize":15}},"y2":{"datum":0},
   "color":{"field":"s","type":"nominal","scale":{"domain":["b","o","g"],"range":["#1f77b4","#ff7f0e","#2ca02c"]},"legend":null}}},
  {"width":134,"height":93,"title":{"text":"0.5,1.5","fontSize":18.4,"offset":3},"data":{"name":"ha"},"transform":[{"filter":"datum.p==3"},{"fold":["b","o","g"],"as":["s","n"]}],"mark":"rect",
   "encoding":{"x":{"field":"x0","type":"quantitative","scale":{"domain":[-3.2,2.95],"nice":false,"zero":false},"axis":{"values":[-2.5,0,2.5],"format":".1f","title":"Value","labelFontSize":15,"titleFontSize":16.5}},"x2":{"field":"x1"},
   "y":{"field":"n","type":"quantitative","scale":{"domain":[0,441],"nice":false},"axis":{"values":[0,250],"title":null,"labelFontSize":15}},"y2":{"datum":0},
   "color":{"field":"s","type":"nominal","scale":{"domain":["b","o","g"],"range":["#1f77b4","#ff7f0e","#2ca02c"]},"legend":null}}},
  {"width":134,"height":93,"title":{"text":"0.25,1.75","fontSize":18.4,"offset":3},"data":{"name":"ha"},"transform":[{"filter":"datum.p==4"},{"fold":["b","o","g"],"as":["s","n"]}],"mark":"rect",
   "encoding":{"x":{"field":"x0","type":"quantitative","scale":{"domain":[-2.15,1.98],"nice":false,"zero":false},"axis":{"values":[-2,0],"format":"d","title":"Value","labelFontSize":15,"titleFontSize":16.5}},"x2":{"field":"x1"},
   "y":{"field":"n","type":"quantitative","scale":{"domain":[0,441],"nice":false},"axis":{"values":[0,250],"title":null,"labelFontSize":15}},"y2":{"datum":0},
   "color":{"field":"s","type":"nominal","scale":{"domain":["b","o","g"],"range":["#1f77b4","#ff7f0e","#2ca02c"]},"legend":null}}},
  {"width":134,"height":93,"title":{"text":"0,2","fontSize":18.4,"offset":3},"data":{"name":"ha"},"transform":[{"filter":"datum.p==5"},{"fold":["b","o","g"],"as":["s","n"]}],"mark":"rect",
   "encoding":{"x":{"field":"x0","type":"quantitative","scale":{"domain":[-0.93,0.87],"nice":false,"zero":false},"axis":{"values":[-0.5,0,0.5],"format":".1f","title":"Value","labelFontSize":15,"titleFontSize":16.5}},"x2":{"field":"x1"},
   "y":{"field":"n","type":"quantitative","scale":{"domain":[0,652],"nice":false},"axis":{"values":[0,500],"title":null,"labelFontSize":15}},"y2":{"datum":0},
   "color":{"field":"s","type":"nominal","scale":{"domain":["b","o","g"],"range":["#1f77b4","#ff7f0e","#2ca02c"]},"legend":null}}},
  {"width":1,"height":93,"data":{"values":[]},"mark":"point","encoding":{},"view":{"stroke":null,"fill":"transparent"}}
 ]}]}]},
{"title":{"text":"(b) Causal Coefficient absolute changes (elements in A) between first and last section of X.","orient":"bottom","anchor":"middle","frame":"bounds","fontSize":24,"offset":26.5},
 "vconcat":[{"title":{"text":"V","anchor":"middle","frame":"bounds","fontSize":22,"fontWeight":"bold","dx":-10.9,"offset":-10.5},
 "vconcat":[{"title":{"text":"stat","anchor":"middle","frame":"bounds","fontSize":15,"dx":8.5,"offset":0},
 "bounds":"flush","spacing":50,
 "hconcat":[
  {"width":1,"height":103,"data":{"values":[]},"mark":"point","encoding":{},"view":{"stroke":null,"fill":"transparent"}},
  {"width":153,"height":103,"title":{"text":"Change : 0","dy":3.3},"data":{"name":"hb"},"transform":[{"filter":"datum.p==1"}],"mark":{"type":"rect","color":"#3b4cc0"},
   "encoding":{"x":{"field":"x0","type":"quantitative","scale":{"domain":[-0.97,8.49],"nice":false,"zero":false},"axis":{"values":[0,5],"title":"Total A change"}},"x2":{"field":"x1"},"y":{"field":"n","type":"quantitative","scale":{"domain":[0,52.5],"nice":false},"axis":{"values":[0,50],"title":"Count"}},"y2":{"datum":0}}},
  {"width":153,"height":103,"title":{"text":"Change : 0.125","dy":3.3},"data":{"name":"hb"},"transform":[{"filter":"datum.p==2"}],"mark":{"type":"rect","color":"#8db0fe"},
   "encoding":{"x":{"field":"x0","type":"quantitative","scale":{"domain":[-0.97,8.49],"nice":false,"zero":false},"axis":{"values":[0,5],"title":"Total A change"}},"x2":{"field":"x1"},"y":{"field":"n","type":"quantitative","scale":{"domain":[0,10.5],"nice":false},"axis":{"values":[0,10],"title":null}},"y2":{"datum":0}}},
  {"width":153,"height":103,"title":{"text":"Change : 0.25","dy":3.3},"data":{"name":"hb"},"transform":[{"filter":"datum.p==3"}],"mark":{"type":"rect","color":"#dddcdc"},
   "encoding":{"x":{"field":"x0","type":"quantitative","scale":{"domain":[-0.97,8.49],"nice":false,"zero":false},"axis":{"values":[0,5],"title":"Total A change"}},"x2":{"field":"x1"},"y":{"field":"n","type":"quantitative","scale":{"domain":[0,10.5],"nice":false},"axis":{"values":[0,10],"title":null}},"y2":{"datum":0}}},
  {"width":153,"height":103,"title":"Change : 0.375","data":{"name":"hb"},"transform":[{"filter":"datum.p==4"}],"mark":{"type":"rect","color":"#f49a7b"},
   "encoding":{"x":{"field":"x0","type":"quantitative","scale":{"domain":[-0.97,8.49],"nice":false,"zero":false},"axis":{"values":[0,5],"title":"Total A change"}},"x2":{"field":"x1"},"y":{"field":"n","type":"quantitative","scale":{"domain":[0,9.45],"nice":false},"axis":{"values":[0,5],"title":null}},"y2":{"datum":0}}},
  {"width":153,"height":103,"title":"Change : 0.5","data":{"name":"hb"},"transform":[{"filter":"datum.p==5"}],"mark":{"type":"rect","color":"#b40426"},
   "encoding":{"x":{"field":"x0","type":"quantitative","scale":{"domain":[-0.97,8.49],"nice":false,"zero":false},"axis":{"values":[0,5],"title":"Total A change"}},"x2":{"field":"x1"},"y":{"field":"n","type":"quantitative","scale":{"domain":[0,9.45],"nice":false},"axis":{"values":[0,5],"title":null}},"y2":{"datum":0}}}
 ]}]}]},
{"title":{"text":"(c) Number of temporarily non-zero elements in A.","orient":"bottom","anchor":"middle","frame":"bounds","fontSize":24,"offset":26.5},
 "vconcat":[{"title":{"text":"V","anchor":"middle","frame":"bounds","fontSize":22,"fontWeight":"bold","dx":-10.9,"offset":-10.5},
 "vconcat":[{"title":{"text":"stat","anchor":"middle","frame":"bounds","fontSize":15,"dx":8.5,"offset":0},
 "bounds":"flush","spacing":46,
 "hconcat":[
  {"width":5,"height":102,"data":{"values":[]},"mark":"point","encoding":{},"view":{"stroke":null,"fill":"transparent"}},
  {"width":156,"height":102,"title":"Change points: 0","data":{"name":"hc"},"transform":[{"filter":"datum.p==1"}],"mark":{"type":"rect","color":"#3b4cc0"},
   "encoding":{"x":{"field":"x0","type":"quantitative","scale":{"domain":[0.6,54.4],"nice":false,"zero":false},"axis":{"values":[25,50],"title":"Sum of Nonzero coefficients"}},"x2":{"field":"x1"},"y":{"field":"n","type":"quantitative","scale":{"domain":[0,12.6],"nice":false},"axis":{"values":[0,10],"title":"Count"}},"y2":{"datum":0}}},
  {"width":156,"height":102,"title":"Change points: 1","data":{"name":"hc"},"transform":[{"filter":"datum.p==2"}],"mark":{"type":"rect","color":"#8db0fe"},
   "encoding":{"x":{"field":"x0","type":"quantitative","scale":{"domain":[0.6,54.4],"nice":false,"zero":false},"axis":{"values":[25,50],"title":"Sum of Nonzero coefficients"}},"x2":{"field":"x1"},"y":{"field":"n","type":"quantitative","scale":{"domain":[0,14.7],"nice":false},"axis":{"values":[0,10],"title":null}},"y2":{"datum":0}}},
  {"width":156,"height":102,"title":"Change points: 2","data":{"name":"hc"},"transform":[{"filter":"datum.p==3"}],"mark":{"type":"rect","color":"#dddcdc"},
   "encoding":{"x":{"field":"x0","type":"quantitative","scale":{"domain":[0.6,54.4],"nice":false,"zero":false},"axis":{"values":[25,50],"title":"Sum of Nonzero coefficients"}},"x2":{"field":"x1"},"y":{"field":"n","type":"quantitative","scale":{"domain":[0,11.55],"nice":false},"axis":{"values":[0,10],"title":null}},"y2":{"datum":0}}},
  {"width":156,"height":102,"title":{"text":"Change points: 3","dy":3.3},"data":{"name":"hc"},"transform":[{"filter":"datum.p==4"}],"mark":{"type":"rect","color":"#f49a7b"},
   "encoding":{"x":{"field":"x0","type":"quantitative","scale":{"domain":[0.6,54.4],"nice":false,"zero":false},"axis":{"values":[25,50],"title":"Sum of Nonzero coefficients"}},"x2":{"field":"x1"},"y":{"field":"n","type":"quantitative","scale":{"domain":[0,10.5],"nice":false},"axis":{"values":[0,10],"title":null}},"y2":{"datum":0}}},
  {"width":156,"height":102,"title":"Change points: 4","data":{"name":"hc"},"transform":[{"filter":"datum.p==5"}],"mark":{"type":"rect","color":"#b40426"},
   "encoding":{"x":{"field":"x0","type":"quantitative","scale":{"domain":[0.6,54.4],"nice":false,"zero":false},"axis":{"values":[25,50],"title":"Sum of Nonzero coefficients","titleAnchor":"end","titleFontSize":16}},"x2":{"field":"x1"},"y":{"field":"n","type":"quantitative","scale":{"domain":[0,12.6],"nice":false},"axis":{"values":[0,10],"title":null}},"y2":{"datum":0}}}
 ]}]}]},
{"title":{"text":"(d) Length of the time generated time series.","orient":"bottom","anchor":"middle","frame":"bounds","fontSize":24,"offset":26.5},
 "vconcat":[{"title":{"text":"V","anchor":"middle","frame":"bounds","fontSize":22,"fontWeight":"bold","dx":-19.2,"offset":-10.5},
 "vconcat":[{"title":{"text":"length","anchor":"middle","frame":"bounds","fontSize":15,"dx":8.5,"offset":0},
 "bounds":"flush","spacing":24,
 "hconcat":[
  {"width":32,"height":102,"data":{"values":[]},"mark":"point","encoding":{},"view":{"stroke":null,"fill":"transparent"}},
  {"width":173,"height":102,"title":"250","data":{"name":"ts"},"transform":[{"fold":["a","b","c","d","e"],"as":["s","v"]}],"mark":{"type":"line","strokeWidth":2},
   "encoding":{"x":{"field":"i","type":"quantitative","scale":{"domain":[-12.45,261.45],"nice":false,"zero":false},"axis":{"values":[0,100,200],"title":"TS Index"}},"y":{"field":"v","type":"quantitative","scale":{"domain":[-6.8,4.74],"nice":false,"zero":false},"axis":{"values":[-5,0],"title":"Value","titlePadding":13}},
   "color":{"field":"s","type":"nominal","scale":{"domain":["a","b","c","d","e"],"range":["#1f77b4","#ff7f0e","#2ca02c","#d62728","#9467bd"]},"legend":null}}},
  {"width":173,"height":102,"title":"100","data":{"name":"ts"},"transform":[{"filter":"datum.i<100"},{"fold":["a","b","c","d","e"],"as":["s","v"]}],"mark":{"type":"line","strokeWidth":2},
   "encoding":{"x":{"field":"i","type":"quantitative","scale":{"domain":[-12.45,261.45],"nice":false,"zero":false},"axis":{"values":[0,100,200],"title":"TS Index"}},"y":{"field":"v","type":"quantitative","scale":{"domain":[-6.8,4.74],"nice":false,"zero":false},"axis":{"values":[-5,0],"labels":false,"title":null}},
   "color":{"field":"s","type":"nominal","scale":{"domain":["a","b","c","d","e"],"range":["#1f77b4","#ff7f0e","#2ca02c","#d62728","#9467bd"]},"legend":null}}},
  {"width":173,"height":102,"title":"50","data":{"name":"ts"},"transform":[{"filter":"datum.i<50"},{"fold":["a","b","c","d","e"],"as":["s","v"]}],"mark":{"type":"line","strokeWidth":2},
   "encoding":{"x":{"field":"i","type":"quantitative","scale":{"domain":[-12.45,261.45],"nice":false,"zero":false},"axis":{"values":[0,100,200],"title":"TS Index"}},"y":{"field":"v","type":"quantitative","scale":{"domain":[-6.8,4.74],"nice":false,"zero":false},"axis":{"values":[-5,0],"labels":false,"title":null}},
   "color":{"field":"s","type":"nominal","scale":{"domain":["a","b","c","d","e"],"range":["#1f77b4","#ff7f0e","#2ca02c","#d62728","#9467bd"]},"legend":null}}},
  {"width":173,"height":102,"title":"25","data":{"name":"ts"},"transform":[{"filter":"datum.i<25"},{"fold":["a","b","c","d","e"],"as":["s","v"]}],"mark":{"type":"line","strokeWidth":2},
   "encoding":{"x":{"field":"i","type":"quantitative","scale":{"domain":[-12.45,261.45],"nice":false,"zero":false},"axis":{"values":[0,100,200],"title":"TS Index"}},"y":{"field":"v","type":"quantitative","scale":{"domain":[-6.8,4.74],"nice":false,"zero":false},"axis":{"values":[-5,0],"labels":false,"title":null}},
   "color":{"field":"s","type":"nominal","scale":{"domain":["a","b","c","d","e"],"range":["#1f77b4","#ff7f0e","#2ca02c","#d62728","#9467bd"]},"legend":null}}},
  {"width":173,"height":102,"title":"12","data":{"name":"ts"},"transform":[{"filter":"datum.i<12"},{"fold":["a","b","c","d","e"],"as":["s","v"]}],"mark":{"type":"line","strokeWidth":2},
   "encoding":{"x":{"field":"i","type":"quantitative","scale":{"domain":[-12.45,261.45],"nice":false,"zero":false},"axis":{"values":[0,100,200],"title":"TS Index"}},"y":{"field":"v","type":"quantitative","scale":{"domain":[-6.8,4.74],"nice":false,"zero":false},"axis":{"values":[-5,0],"labels":false,"title":null}},
   "color":{"field":"s","type":"nominal","scale":{"domain":["a","b","c","d","e"],"range":["#1f77b4","#ff7f0e","#2ca02c","#d62728","#9467bd"]},"legend":null}}}
 ]}]}]},
{"title":{"text":"(e) Time series with increasingly missing (mcar) and afterwards interpolated values.","orient":"bottom","anchor":"middle","frame":"bounds","fontSize":24,"offset":26.5},
 "vconcat":[{"title":{"text":"V","anchor":"middle","frame":"bounds","fontSize":22,"fontWeight":"bold","dx":-15.5,"offset":-10.5},
 "vconcat":[{"title":{"text":"mcar","anchor":"middle","frame":"bounds","fontSize":15,"dx":8.5,"offset":0},
 "bounds":"flush","spacing":24,
 "hconcat":[
  {"width":32,"height":103,"data":{"values":[]},"mark":"point","encoding":{},"view":{"stroke":null,"fill":"transparent"}},
  {"width":173,"height":103,"title":"0","data":{"name":"ts"},"mark":{"type":"line","strokeWidth":2,"color":"#3b4cc0"},
   "encoding":{"x":{"field":"i","type":"quantitative","scale":{"domain":[-12.45,261.45],"nice":false,"zero":false},"axis":{"values":[0,100,200],"title":"TS Index"}},"y":{"field":"a","type":"quantitative","scale":{"domain":[-6.64,4.39],"nice":false,"zero":false},"axis":{"values":[-5,0],"title":"Value","titlePadding":13}}}},
  {"width":173,"height":103,"title":"0.25","data":{"name":"ts"},"transform":[{"filter":"datum.k>0"}],"mark":{"type":"line","strokeWidth":2,"color":"#8db0fe"},
   "encoding":{"x":{"field":"i","type":"quantitative","scale":{"domain":[-12.45,261.45],"nice":false,"zero":false},"axis":{"values":[0,100,200],"title":"TS Index"}},"y":{"field":"a","type":"quantitative","scale":{"domain":[-6.64,4.39],"nice":false,"zero":false},"axis":{"values":[-5,0],"labels":false,"title":null}}}},
  {"width":173,"height":103,"title":"0.5","data":{"name":"ts"},"transform":[{"filter":"datum.k>1"}],"mark":{"type":"line","strokeWidth":2,"color":"#dddcdc"},
   "encoding":{"x":{"field":"i","type":"quantitative","scale":{"domain":[-12.45,261.45],"nice":false,"zero":false},"axis":{"values":[0,100,200],"title":"TS Index"}},"y":{"field":"a","type":"quantitative","scale":{"domain":[-6.64,4.39],"nice":false,"zero":false},"axis":{"values":[-5,0],"labels":false,"title":null}}}},
  {"width":173,"height":103,"title":"0.75","data":{"name":"e75"},"mark":{"type":"line","strokeWidth":2,"color":"#f49a7b"},
   "encoding":{"x":{"field":"i","type":"quantitative","scale":{"domain":[-12.45,261.45],"nice":false,"zero":false},"axis":{"values":[0,100,200],"title":"TS Index"}},"y":{"field":"v","type":"quantitative","scale":{"domain":[-6.64,4.39],"nice":false,"zero":false},"axis":{"values":[-5,0],"labels":false,"title":null}}}},
  {"width":173,"height":103,"title":"0.95","data":{"name":"e95"},"mark":{"type":"line","strokeWidth":2,"color":"#b40426"},
   "encoding":{"x":{"field":"i","type":"quantitative","scale":{"domain":[-12.45,261.45],"nice":false,"zero":false},"axis":{"values":[0,100,200],"title":"TS Index"}},"y":{"field":"v","type":"quantitative","scale":{"domain":[-6.64,4.39],"nice":false,"zero":false},"axis":{"values":[-5,0],"labels":false,"title":null}}}}
 ]}]}]},
{"title":{"text":"(f) Time series with increasingly missing (mar) and afterwards interpolated values.","orient":"bottom","anchor":"middle","frame":"bounds","fontSize":24,"offset":26.5},
 "vconcat":[{"title":{"text":"V","anchor":"middle","frame":"bounds","fontSize":22,"fontWeight":"bold","dx":-12.1,"offset":-10.5},
 "vconcat":[{"title":{"text":"mar","anchor":"middle","frame":"bounds","fontSize":15,"dx":8.5,"offset":0},
 "bounds":"flush","spacing":24,
 "hconcat":[
  {"width":32,"height":103,"data":{"values":[]},"mark":"point","encoding":{},"view":{"stroke":null,"fill":"transparent"}},
  {"width":173,"height":103,"title":"0","data":{"name":"ts"},"mark":{"type":"line","strokeWidth":2,"color":"#3b4cc0"},
   "encoding":{"x":{"field":"i","type":"quantitative","scale":{"domain":[-12.45,261.45],"nice":false,"zero":false},"axis":{"values":[0,100,200],"title":"TS Index"}},"y":{"field":"a","type":"quantitative","scale":{"domain":[-6.64,4.39],"nice":false,"zero":false},"axis":{"values":[-5,0],"title":"Value","titlePadding":13}}}},
  {"width":173,"height":103,"title":"0.25","data":{"name":"ts"},"transform":[{"filter":"datum.q>0"}],"mark":{"type":"line","strokeWidth":2,"color":"#8db0fe"},
   "encoding":{"x":{"field":"i","type":"quantitative","scale":{"domain":[-12.45,261.45],"nice":false,"zero":false},"axis":{"values":[0,100,200],"title":"TS Index"}},"y":{"field":"a","type":"quantitative","scale":{"domain":[-6.64,4.39],"nice":false,"zero":false},"axis":{"values":[-5,0],"labels":false,"title":null}}}},
  {"width":173,"height":103,"title":"0.5","data":{"name":"ts"},"transform":[{"filter":"datum.q>1"}],"mark":{"type":"line","strokeWidth":2,"color":"#dddcdc"},
   "encoding":{"x":{"field":"i","type":"quantitative","scale":{"domain":[-12.45,261.45],"nice":false,"zero":false},"axis":{"values":[0,100,200],"title":"TS Index"}},"y":{"field":"a","type":"quantitative","scale":{"domain":[-6.64,4.39],"nice":false,"zero":false},"axis":{"values":[-5,0],"labels":false,"title":null}}}},
  {"width":173,"height":103,"title":"0.75","data":{"name":"f75"},"mark":{"type":"line","strokeWidth":2,"color":"#f49a7b"},
   "encoding":{"x":{"field":"i","type":"quantitative","scale":{"domain":[-12.45,261.45],"nice":false,"zero":false},"axis":{"values":[0,100,200],"title":"TS Index"}},"y":{"field":"v","type":"quantitative","scale":{"domain":[-6.64,4.39],"nice":false,"zero":false},"axis":{"values":[-5,0],"labels":false,"title":null}}}},
  {"width":173,"height":103,"title":"0.95","data":{"name":"f95"},"mark":{"type":"line","strokeWidth":2,"color":"#b40426"},
   "encoding":{"x":{"field":"i","type":"quantitative","scale":{"domain":[-12.45,261.45],"nice":false,"zero":false},"axis":{"values":[0,100,200],"title":"TS Index"}},"y":{"field":"v","type":"quantitative","scale":{"domain":[-6.64,4.39],"nice":false,"zero":false},"axis":{"values":[-5,0],"labels":false,"title":null}}}}
 ]}]}]}
]
}
